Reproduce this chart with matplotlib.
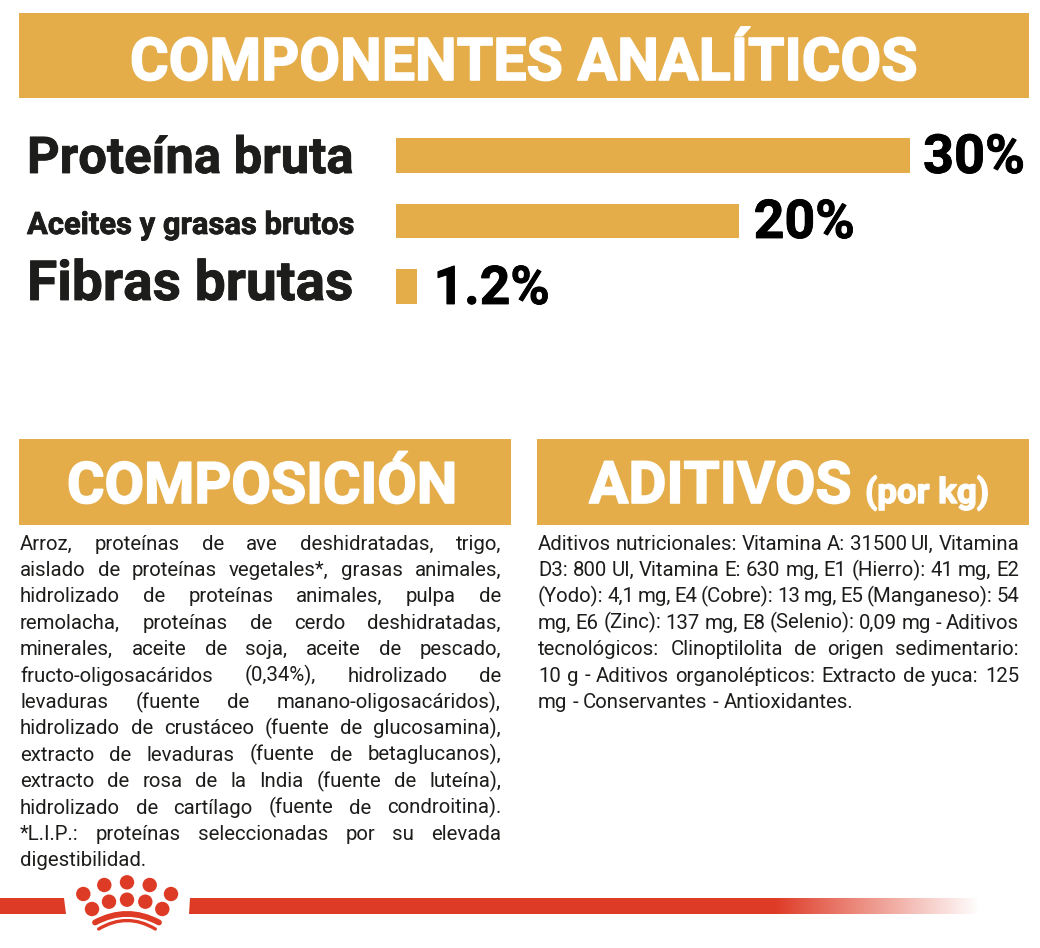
import matplotlib
matplotlib.use("Agg")
import matplotlib.pyplot as plt
import matplotlib.patheffects as pe
import numpy as np
from matplotlib.patches import Rectangle, Circle, Polygon, PathPatch
from matplotlib.path import Path

categories = ["Proteína bruta", "Aceites y grasas brutos", "Fibras brutas"]
values = [30, 20, 1.2]
value_labels = ["30%", "20%", "1.2%"]

composicion = [
    "Arroz, proteínas de ave deshidratadas, trigo,",
    "aislado de proteínas vegetales*, grasas animales,",
    "hidrolizado de proteínas animales, pulpa de",
    "remolacha, proteínas de cerdo deshidratadas,",
    "minerales, aceite de soja, aceite de pescado,",
    "fructo-oligosacáridos (0,34%), hidrolizado de",
    "levaduras (fuente de manano-oligosacáridos),",
    "hidrolizado de crustáceo (fuente de glucosamina),",
    "extracto de levaduras (fuente de betaglucanos),",
    "extracto de rosa de la India (fuente de luteína),",
    "hidrolizado de cartílago (fuente de condroitina).",
    "*L.I.P.: proteínas seleccionadas por su elevada",
    "digestibilidad.",
]
aditivos = [
    "Aditivos nutricionales: Vitamina A: 31500 UI, Vitamina",
    "D3: 800 UI, Vitamina E: 630 mg, E1 (Hierro): 41 mg, E2",
    "(Yodo): 4,1 mg, E4 (Cobre): 13 mg, E5 (Manganeso): 54",
    "mg, E6 (Zinc): 137 mg, E8 (Selenio): 0,09 mg - Aditivos",
    "tecnológicos: Clinoptilolita de origen sedimentario:",
    "10 g - Aditivos organolépticos: Extracto de yuca: 125",
    "mg - Conservantes - Antioxidantes.",
]

GOLD = "#E4AD4A"
RED = "#DE3B26"
INK = "#1D1D1B"
W, H = 1040, 948

fig = plt.figure(figsize=(W / 100, H / 100), dpi=100, facecolor="white")
ax = fig.add_axes([0, 0, 1, 1])
ax.set_xlim(0, W)
ax.set_ylim(H, 0)
ax.axis("off")
renderer = fig.canvas.get_renderer()


def width_of(t):
    return t.get_window_extent(renderer).width


def fit(text, x0, x1, base, family="Roboto", weight="bold", color=INK, stroke=0.0):
    t = ax.text(x0, base, text, ha="left", va="baseline", fontsize=40,
                family=family, weight=weight, color=color)
    t.set_fontsize(40 * (x1 - x0) / width_of(t))
    if stroke:
        t.set_path_effects([pe.withStroke(linewidth=stroke, foreground=color)])
    return t


def body(lines, x0, x1, top, step=26.4, size=14.7, family="Roboto"):
    for i, line in enumerate(lines):
        base = top + i * step
        words = line.split(" ")
        texts = [ax.text(x0, base, w, ha="left", va="baseline", fontsize=size,
                         family=family, color=INK) for w in words]
        widths = [width_of(t) for t in texts]
        if i == len(lines) - 1 or len(words) == 1:
            gap = size * 100 / 72 * 0.25
        else:
            gap = (x1 - x0 - sum(widths)) / (len(words) - 1)
        x = x0
        for t, w in zip(texts, widths):
            t.set_x(x)
            x += w + gap


# header bands
for (x0, y0, x1, y1) in [(19, 12.5, 1029, 98), (19, 439, 511, 525), (537, 439, 1029, 525)]:
    ax.add_patch(Rectangle((x0, y0), x1 - x0, y1 - y0, fc=GOLD, ec="none"))

fit("COMPONENTES ANALÍTICOS", 130, 917, 80, weight="bold", color="white", stroke=1.2)
fit("COMPOSICIÓN", 67, 457, 503, weight="bold", color="white", stroke=1.2)
fit("ADITIVOS", 589, 851, 503, weight="bold", color="white", stroke=1.2)
fit("(por kg)", 865, 989, 503, weight="bold", color="white", stroke=1.0)

# nutrient bars
bar_ax = fig.add_axes([396 / W, 1 - (122.75 + 196.5) / H, (910 - 396) / W, 196.5 / H])
bar_ax.set_xlim(0, 30)
bar_ax.set_ylim(2.5, -0.5)
bar_ax.axis("off")
ypos = np.arange(len(values))
bar_ax.barh(ypos, values, height=0.534, color=GOLD)

label_bases = [173, 238, 304]
label_spans = [(27, 353), (27, 354), (27, 353)]
for cat, (a, b), base in zip(categories, label_spans, [173, 234, 300]):
    fit(cat, a, b, base, stroke=0.6)
for v, lab, base, wid, off in zip(values, value_labels, label_bases, [102, 101, 116], [13, 15, 17]):
    x0 = 396 + v * (910 - 396) / 30 + off
    fit(lab, x0, x0 + wid, base, color="black", stroke=0.6)

# body copy
body(composicion, 20, 501, 549.5)
body(aditivos, 538, 1019, 549.5)

# footer stripe
ax.add_patch(Polygon([(0, 898), (64, 898), (66, 914), (0, 914)], fc=RED, ec="none"))
ax.add_patch(Polygon([(190, 898), (775, 898), (775, 914), (189, 914)], fc=RED, ec="none"))
fade = np.ones((1, 205, 4))
fade[..., :3] = matplotlib.colors.to_rgb(RED)
fade[0, :, 3] = np.linspace(1, 0, 205)
ax.imshow(fade, extent=(775, 980, 914, 898), aspect="auto", zorder=1)
ax.set_xlim(0, W)
ax.set_ylim(H, 0)

# crown logo
crown_x = [83.3, 104.3, 127, 149.7, 171, 92, 109, 127, 145.3, 162.3]
crown_y = [894, 885, 882.3, 885, 894, 909, 901.7, 899.7, 901.7, 909]
for cx, cy in zip(crown_x, crown_y):
    ax.add_patch(Circle((cx, cy), 7.2, fc=RED, ec="none"))
arc1 = Path([(95, 922.5), (127, 905.3), (159, 922.5)], [Path.MOVETO, Path.CURVE3, Path.CURVE3])
arc2 = Path([(98.7, 929), (127, 912), (155.3, 929)], [Path.MOVETO, Path.CURVE3, Path.CURVE3])
ax.add_patch(PathPatch(arc1, fc="none", ec=RED, lw=4.2, capstyle="round"))
ax.add_patch(PathPatch(arc2, fc="none", ec=RED, lw=2.4, capstyle="round"))

fig.savefig("out.png", dpi=100, facecolor="white")
